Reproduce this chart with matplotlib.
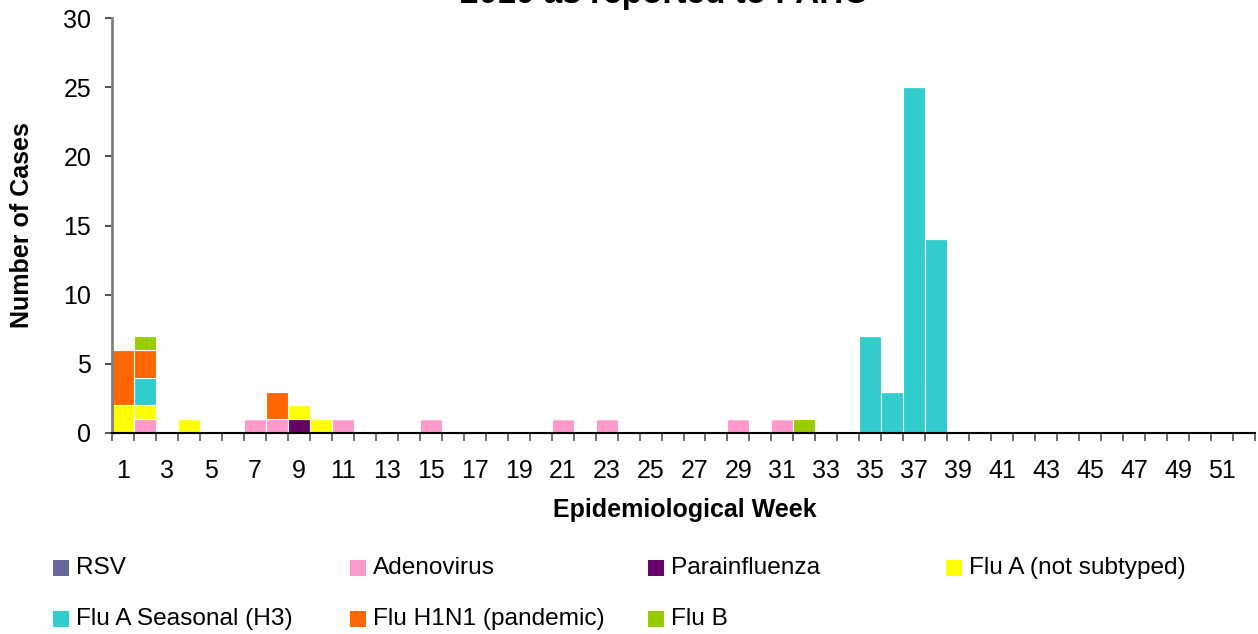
import numpy as np
import matplotlib
matplotlib.use("Agg")
import matplotlib.pyplot as plt
from matplotlib.patches import Rectangle

plt.rcParams['font.family'] = ['Liberation Sans', 'DejaVu Sans']

weeks = np.arange(1, 53)

# cases per week for each virus (weeks not listed are 0)
rsv = {}
adenovirus = {2: 1, 7: 1, 8: 1, 11: 1, 15: 1, 21: 1, 23: 1, 29: 1, 31: 1}
parainfluenza = {9: 1}
flu_a = {1: 2, 2: 1, 4: 1, 9: 1, 10: 1}
flu_h3 = {2: 2, 35: 7, 36: 3, 37: 25, 38: 14}
flu_h1n1 = {1: 4, 2: 2, 8: 2}
flu_b = {2: 1, 32: 1}

series_names = ["RSV", "Adenovirus", "Parainfluenza", "Flu A (not subtyped)",
                "Flu A Seasonal (H3)", "Flu H1N1 (pandemic)", "Flu B"]
series_data = [rsv, adenovirus, parainfluenza, flu_a, flu_h3, flu_h1n1, flu_b]
colors = ["#666699", "#FF99CC", "#660066", "#FFFF00", "#33CCCC", "#FF6600", "#99CC00"]

W, H = 1258, 634
fig = plt.figure(figsize=(W / 100, H / 100), dpi=100)
ax = fig.add_axes([112 / W, 1 - 433 / H, (1255 - 112) / W, (433 - 18) / H])

bottom = np.zeros(len(weeks))
for name, data, col in zip(series_names, series_data, colors):
    vals = np.array([data.get(w, 0) for w in weeks], dtype=float)
    ax.bar(weeks, vals, width=1.0, bottom=bottom, color=col,
           edgecolor="white", linewidth=0.8, label=name)
    bottom += vals

ax.set_xlim(0.5, 52.5)
ax.set_ylim(0, 30)
ax.set_yticks(np.arange(0, 31, 5))

# labels on odd weeks, tick marks on category boundaries
ax.set_xticks(weeks[::2])
ax.set_xticks(np.arange(0.5, 53, 1), minor=True)
ax.tick_params(axis="x", which="major", length=0, pad=19, labelsize=18)
ax.tick_params(axis="x", which="minor", length=6, width=1.2, color="#555555", direction="out")
ax.tick_params(axis="y", length=5, width=1.2, pad=10, labelsize=18, color="#333333")

for s in ["top", "right"]:
    ax.spines[s].set_visible(False)
ax.spines["left"].set_color("#808080")
ax.spines["left"].set_linewidth(2)
ax.spines["bottom"].set_color("black")
ax.spines["bottom"].set_linewidth(1.5)

fig.text(685 / W, 1 - 510 / H, "Epidemiological Week", ha="center", va="center",
         fontsize=18, weight="bold")
fig.text(22 / W, 1 - 225 / H, "Number of Cases", ha="center", va="center",
         rotation=90, fontsize=18, weight="bold")
fig.text(665 / W, 1 - 3 / H, "2010 as reported to PAHO", ha="center", va="baseline",
         fontsize=24, weight="bold")

# legend, 4 columns x 2 rows
col_x = [53, 350, 648, 946]
row_y = [568, 619]
for i, (name, col) in enumerate(zip(series_names, colors)):
    x = col_x[i % 4]
    y = row_y[i // 4]
    fig.add_artist(Rectangle((x / W, 1 - (y + 8) / H), 16 / W, 16 / H,
                             transform=fig.transFigure, facecolor=col, edgecolor="none"))
    fig.text((x + 23) / W, 1 - y / H, name, ha="left", va="center", fontsize=17.6)

fig.savefig("out.png", dpi=100)
